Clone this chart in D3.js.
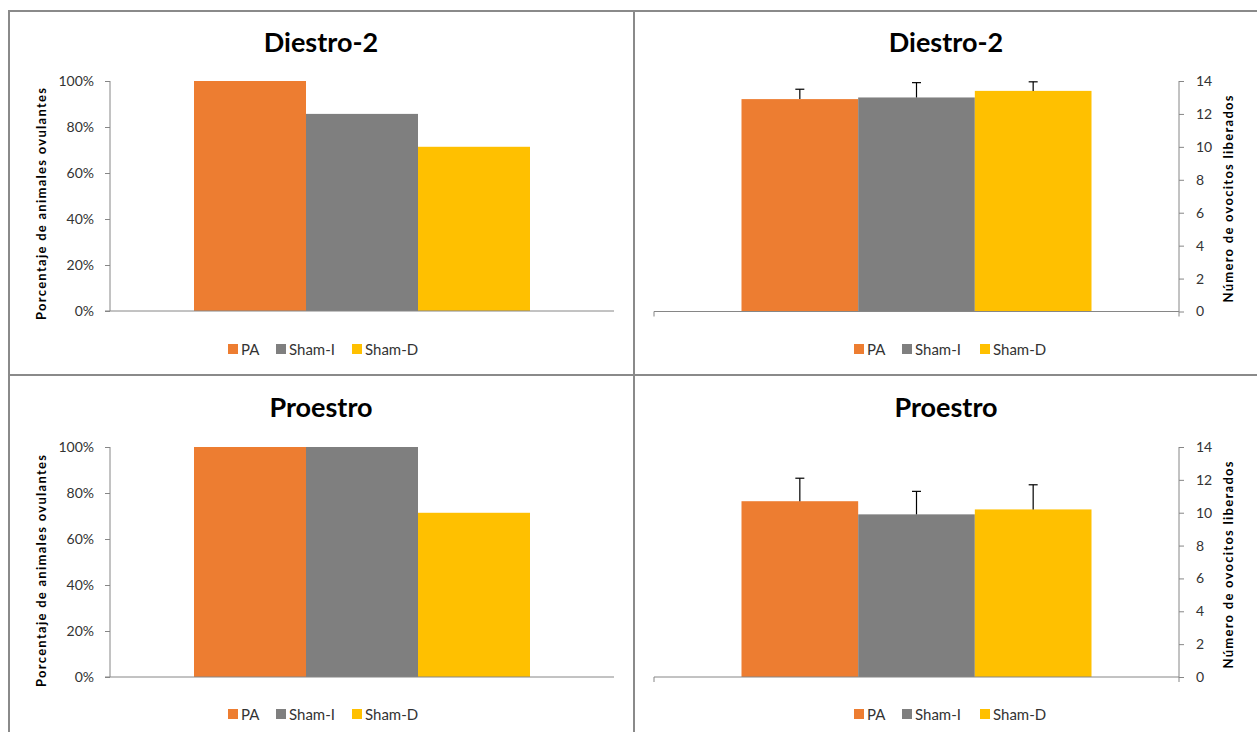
<!DOCTYPE html>
<html>
<head>
<meta charset="utf-8">
<script src="https://cdn.jsdelivr.net/npm/d3@7"></script>
<style>
  html, body { margin: 0; padding: 0; background: #fff; }
  svg { display: block; }
  text { font-family: Lato, "Open Sans", sans-serif; }
</style>
</head>
<body>
<svg id="chart" width="1257" height="732"></svg>
<script>
// ---- Data ----
const categories = ["PA", "Sham-I", "Sham-D"];
const colors = ["#ED7D31", "#7F7F7F", "#FFC000"];

const titleTop = "Diestro-2";
const titleBottom = "Proestro";

const pctTitle = "Porcentaje de animales ovulantes";
const ovoTitle = "Número de ovocitos  liberados";

const diestroPct = [100, 85.7, 71.4];
const proestroPct = [100, 100, 71.4];

const diestroOvo = [12.9, 13.0, 13.4];
const diestroOvoErr = [0.6, 0.9, 0.55];
const proestroOvo = [10.7, 9.9, 10.2];
const proestroOvoErr = [1.4, 1.4, 1.5];

const pctTicks = [0, 20, 40, 60, 80, 100];
const ovoTicks = [0, 2, 4, 6, 8, 10, 12, 14];

// ---- Drawing ----
const svg = d3.select("#chart");
const axisColor = "#868686";
const borderColor = "#8a8a8a";

// panel borders
const borders = svg.append("g").attr("stroke", borderColor).attr("stroke-width", 2);
borders.append("line").attr("x1", 8).attr("x2", 1257).attr("y1", 11).attr("y2", 11);
borders.append("line").attr("x1", 9).attr("x2", 9).attr("y1", 10).attr("y2", 732);
borders.append("line").attr("x1", 634).attr("x2", 634).attr("y1", 10).attr("y2", 732);
borders.append("line").attr("x1", 8).attr("x2", 1257).attr("y1", 375).attr("y2", 375);

function drawPanel(cfg) {
  const g = svg.append("g");
  const y = d3.scaleLinear().domain(cfg.domain).range([cfg.bottom, cfg.top]);
  const xOuter = d3.scaleBand().domain(["g"]).range([cfg.left, cfg.right])
    .paddingInner(0).paddingOuter(0.25);
  const xInner = d3.scaleBand().domain(categories)
    .range([xOuter("g"), xOuter("g") + xOuter.bandwidth()]).padding(0);

  // title
  g.append("text")
    .attr("x", cfg.titleX).attr("y", cfg.titleY)
    .attr("text-anchor", "middle")
    .attr("font-size", 27).attr("font-weight", "bold").attr("fill", "#000")
    .text(cfg.title);

  // bars
  g.selectAll("rect.bar").data(cfg.values).join("rect")
    .attr("class", "bar")
    .attr("x", (d, i) => xInner(categories[i]))
    .attr("width", xInner.bandwidth())
    .attr("y", d => y(d))
    .attr("height", d => y(cfg.domain[0]) - y(d))
    .attr("fill", (d, i) => colors[i]);

  // error bars (plus only)
  if (cfg.errors) {
    const eg = g.append("g").attr("stroke", "#000").attr("stroke-width", 1.2);
    cfg.values.forEach((v, i) => {
      const cx = xInner(categories[i]) + xInner.bandwidth() / 2;
      const yt = y(v + cfg.errors[i]);
      eg.append("line").attr("x1", cx).attr("x2", cx).attr("y1", y(v)).attr("y2", yt);
      eg.append("line").attr("x1", cx - 4.5).attr("x2", cx + 4.5).attr("y1", yt).attr("y2", yt);
    });
  }

  // y axis
  const axis = (cfg.side === "left" ? d3.axisLeft(y) : d3.axisRight(y))
    .tickValues(cfg.ticks)
    .tickSize(5)
    .tickPadding(cfg.side === "left" ? 11 : 12)
    .tickFormat(cfg.fmt);
  const ax = g.append("g")
    .attr("transform", `translate(${cfg.side === "left" ? cfg.left : cfg.right},0)`)
    .call(axis);
  ax.select(".domain").attr("stroke", axisColor).attr("d", `M0,${cfg.top}V${cfg.bottom}`);
  ax.selectAll(".tick line").attr("stroke", axisColor);
  ax.selectAll(".tick text").attr("font-size", 14).attr("fill", "#333")
    .attr("font-family", "Lato, sans-serif");

  // x axis baseline
  const xl = g.append("g").attr("stroke", axisColor).attr("stroke-width", 1);
  xl.append("line")
    .attr("x1", cfg.side === "left" ? cfg.left - 5 : cfg.left)
    .attr("x2", cfg.right)
    .attr("y1", y(cfg.domain[0])).attr("y2", y(cfg.domain[0]));
  if (cfg.side === "right") {
    xl.append("line").attr("x1", cfg.left).attr("x2", cfg.left)
      .attr("y1", y(cfg.domain[0])).attr("y2", y(cfg.domain[0]) + 5);
    xl.append("line").attr("x1", cfg.right).attr("x2", cfg.right)
      .attr("y1", y(cfg.domain[0])).attr("y2", y(cfg.domain[0]) + 5);
  }

  // axis title
  g.append("text")
    .attr("transform", `translate(${cfg.axTitleX},${(cfg.axTitleY)}) rotate(-90)`)
    .attr("text-anchor", "middle")
    .attr("dominant-baseline", "middle")
    .attr("font-size", 13).attr("font-weight", "bold").attr("fill", "#000")
    .attr("textLength", cfg.axTitleLen).attr("lengthAdjust", "spacing")
    .text(cfg.axTitle);

  // legend
  const lg = g.append("g");
  cfg.legendX.forEach((lx, i) => {
    lg.append("rect").attr("x", lx).attr("y", cfg.legendY - 5)
      .attr("width", 10).attr("height", 10).attr("fill", colors[i]);
    lg.append("text").attr("x", lx + 13).attr("y", cfg.legendY)
      .attr("dominant-baseline", "central")
      .attr("font-size", 15).attr("fill", "#333")
      .text(categories[i]);
  });
}

const pctFmt = d => d + "%";
const ovoFmt = d => String(d);

drawPanel({ title: titleTop, titleX: 321, titleY: 52, values: diestroPct, domain: [0, 100],
  ticks: pctTicks, fmt: pctFmt, left: 110, right: 614, top: 81, bottom: 311, side: "left",
  axTitle: pctTitle, axTitleX: 43, axTitleY: 204, axTitleLen: 232,
  legendX: [228, 276, 352], legendY: 349 });

drawPanel({ title: titleTop, titleX: 946, titleY: 52, values: diestroOvo, errors: diestroOvoErr,
  domain: [0, 14], ticks: ovoTicks, fmt: ovoFmt, left: 654, right: 1179, top: 81, bottom: 311.5,
  side: "right", axTitle: ovoTitle, axTitleX: 1230, axTitleY: 199, axTitleLen: 207,
  legendX: [854, 902, 980], legendY: 349 });

drawPanel({ title: titleBottom, titleX: 321, titleY: 417, values: proestroPct, domain: [0, 100],
  ticks: pctTicks, fmt: pctFmt, left: 110, right: 614, top: 447, bottom: 677, side: "left",
  axTitle: pctTitle, axTitleX: 43, axTitleY: 571, axTitleLen: 232,
  legendX: [228, 276, 352], legendY: 714 });

drawPanel({ title: titleBottom, titleX: 946, titleY: 417, values: proestroOvo, errors: proestroOvoErr,
  domain: [0, 14], ticks: ovoTicks, fmt: ovoFmt, left: 654, right: 1179, top: 447, bottom: 677,
  side: "right", axTitle: ovoTitle, axTitleX: 1230, axTitleY: 565, axTitleLen: 207,
  legendX: [854, 902, 980], legendY: 714 });
</script>
</body>
</html>
